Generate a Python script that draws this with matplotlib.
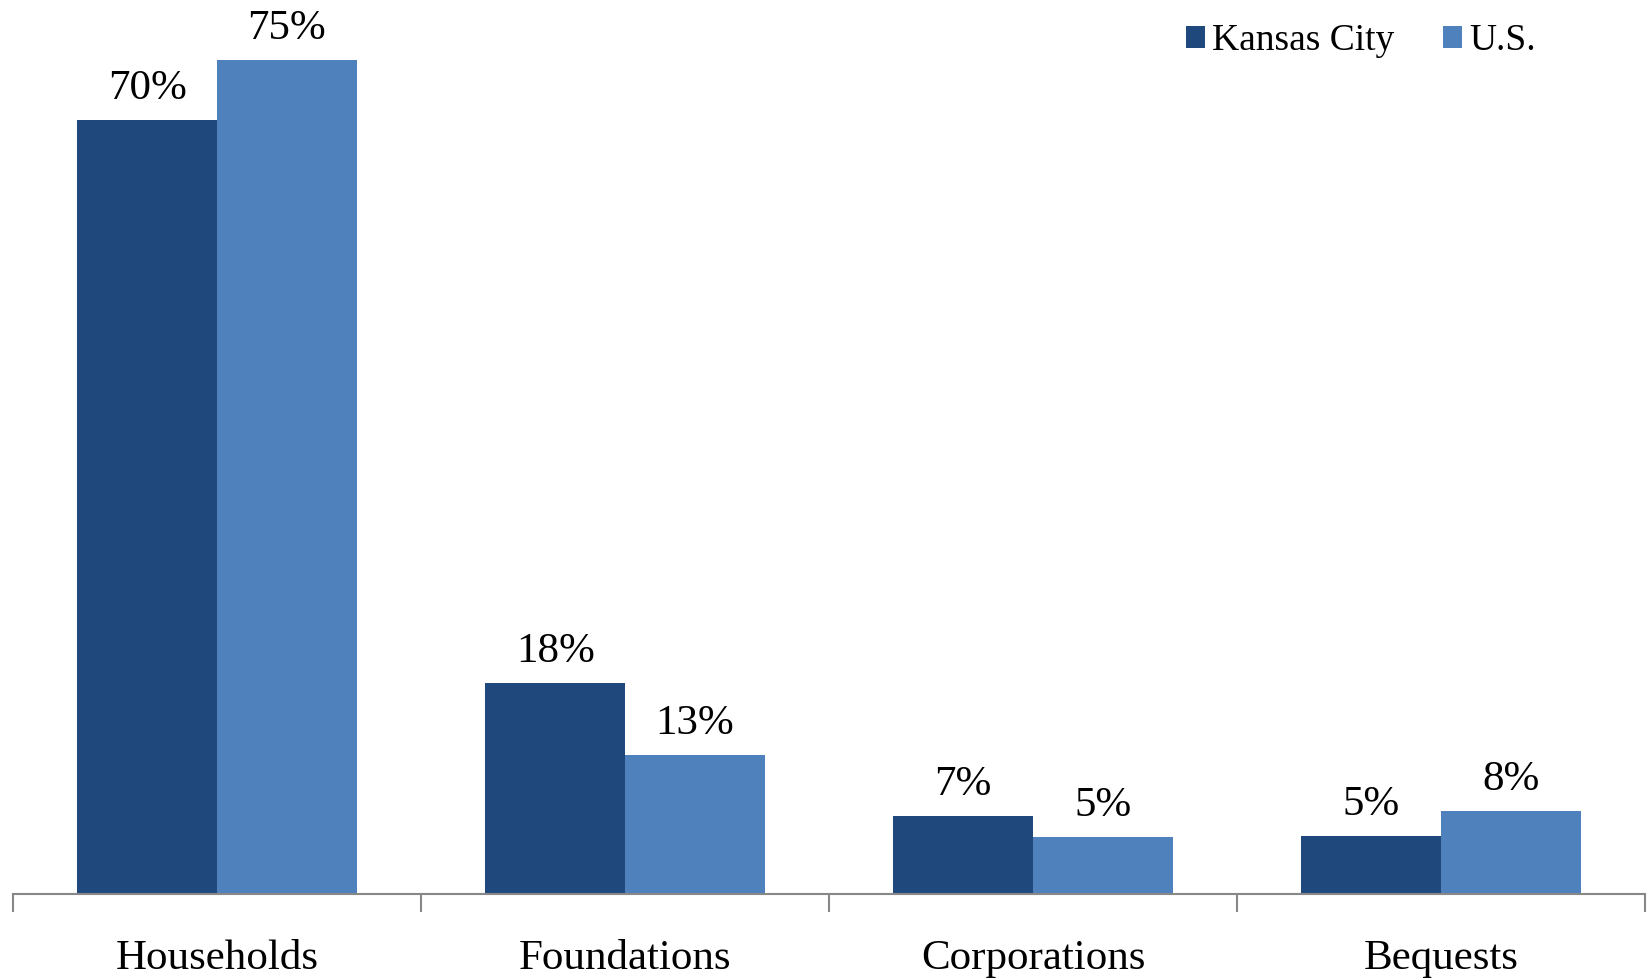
import matplotlib
matplotlib.use("Agg")
import matplotlib.pyplot as plt
import numpy as np

categories = ["Households", "Foundations", "Corporations", "Bequests"]
series_names = ["Kansas City", "U.S."]
kansas_city = [69.6, 19.0, 7.0, 5.2]
us = [75.0, 12.5, 5.1, 7.5]
kansas_city_labels = ["70%", "18%", "7%", "5%"]
us_labels = ["75%", "13%", "5%", "8%"]

colors = ["#1F497D", "#4F81BD"]

plt.rcParams['font.family'] = ['Liberation Serif', 'DejaVu Serif']

fig = plt.figure(figsize=(16.48, 9.80), dpi=100)
ax = fig.add_axes([13/1648, 86/980, (1645-13)/1648, (894-4)/980])

x = np.arange(len(categories))
w = 0.342
b1 = ax.bar(x - w/2, kansas_city, w, color=colors[0], label=series_names[0], zorder=2)
b2 = ax.bar(x + w/2, us, w, color=colors[1], label=series_names[1], zorder=2)

for bars, labels in ((b1, kansas_city_labels), (b2, us_labels)):
    for rect, lab in zip(bars, labels):
        ax.annotate(lab, (rect.get_x() + rect.get_width()/2, rect.get_height()),
                    xytext=(0, 15), textcoords='offset points',
                    ha='center', va='baseline', fontsize=31, color='black')

ax.set_xlim(-0.5, len(categories) - 0.5)
ax.set_ylim(0, 80)
for s in ['top', 'right', 'left']:
    ax.spines[s].set_visible(False)
ax.spines['bottom'].set_color('#888888')
ax.spines['bottom'].set_linewidth(1.5)
ax.set_yticks([])

ax.set_xticks(np.arange(-0.5, len(categories)), minor=False)
ax.set_xticklabels([])
ax.tick_params(axis='x', which='major', length=13, width=1.5, color='#888888', direction='out')
ax.set_xticks(x, minor=True)
ax.set_xticklabels(categories, minor=True, fontsize=31)
ax.tick_params(axis='x', which='minor', length=0, pad=33)

leg = ax.legend(handles=[b1, b2], loc='center left', bbox_to_anchor=(1186/1648, 1 - 41/980),
                bbox_transform=fig.transFigure, ncol=2, frameon=False, fontsize=27,
                handlelength=0.5, handleheight=0.5, handletextpad=0.2, columnspacing=1.3,
                borderpad=0, borderaxespad=0)

fig.savefig("out.png", dpi=100)
